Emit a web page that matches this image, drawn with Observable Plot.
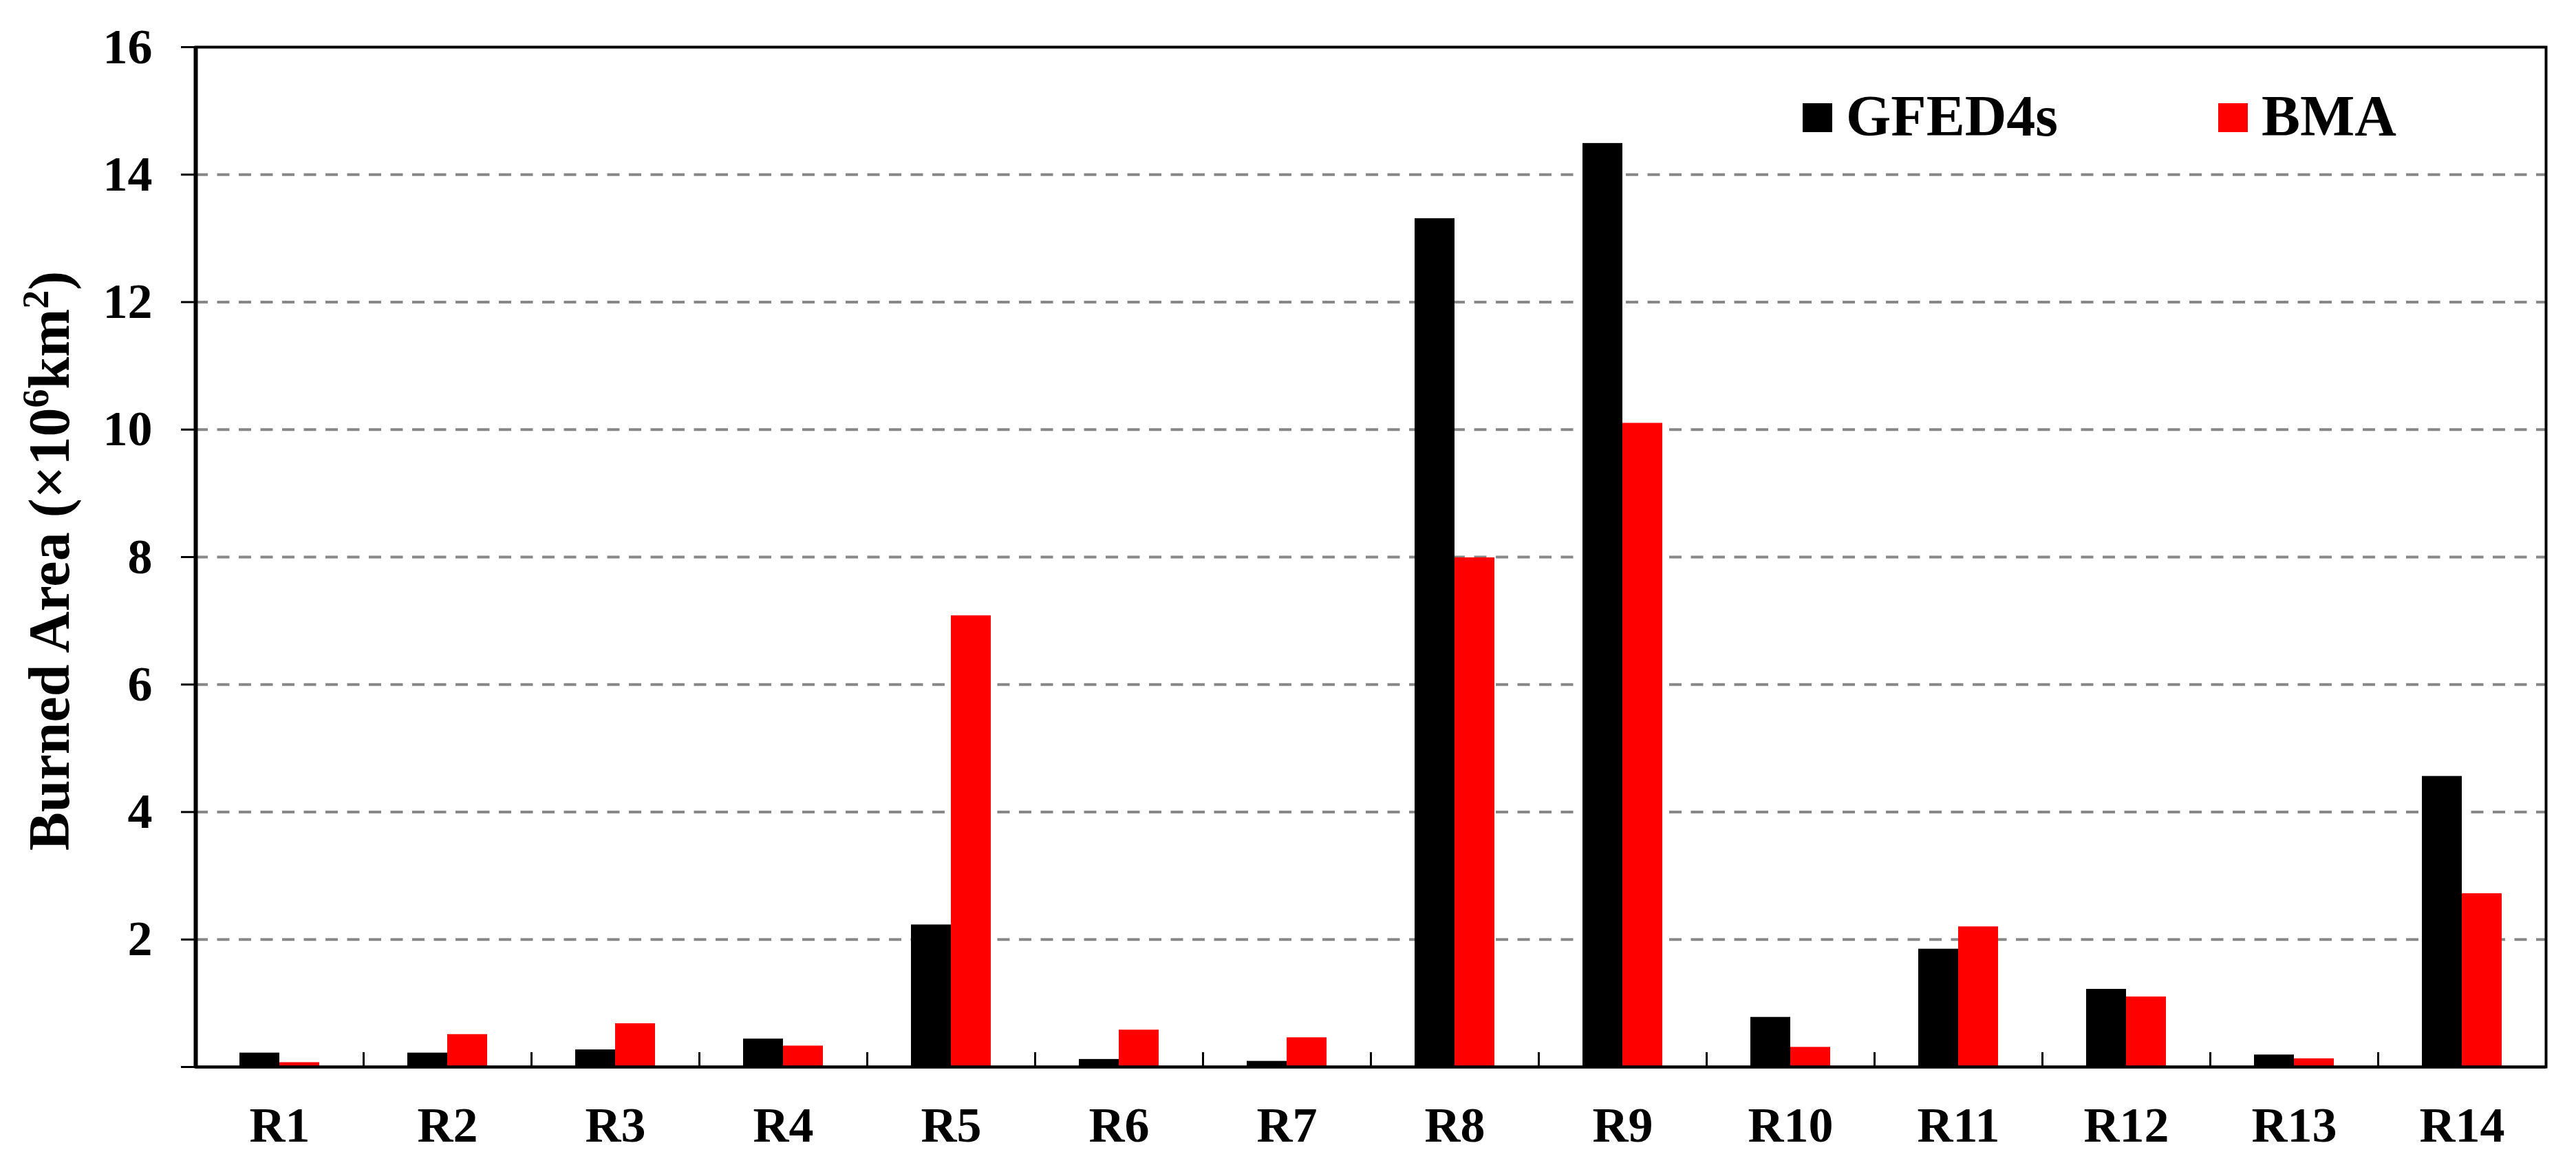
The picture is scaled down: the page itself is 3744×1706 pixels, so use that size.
<!DOCTYPE html>
<html><head><meta charset="utf-8">
<script src="https://cdn.jsdelivr.net/npm/d3@7"></script>
<script src="https://cdn.jsdelivr.net/npm/@observablehq/plot@0.6"></script>
<style>body{margin:0;background:#fff} #chart svg{display:block}</style>
</head><body><div id="chart"></div>
<script>
const regions = ["R1","R2","R3","R4","R5","R6","R7","R8","R9","R10","R11","R12","R13","R14"];
const gfed4s = [0.22,0.22,0.27,0.44,2.23,0.12,0.09,13.31,14.49,0.78,1.85,1.22,0.19,4.56];
const bma    = [0.07,0.51,0.68,0.33,7.08,0.58,0.46,7.99,10.10,0.31,2.20,1.10,0.13,2.72];
const series = ["GFED4s","BMA"];
const seriesColors = ["#000000","#ff0000"];
const yTicks = [0,2,4,6,8,10,12,14,16];
const yGrid = [2,4,6,8,10,12,14];

const W = 3744, H = 1706, mL = 284, mR = 44, mT = 68, mB = 156;
const half = (W - mL - mR) / regions.length / 2;
const barW = 58;
const sepLen = 21 * 16 / (H - mT - mB); // 21px inward separator ticks, in y units
const font = '"Liberation Serif","Times New Roman",Times,serif';

const rowsG = regions.map((r, i) => ({region: r, series: series[0], value: gfed4s[i]}));
const rowsB = regions.map((r, i) => ({region: r, series: series[1], value: bma[i]}));

const svgNode = Plot.plot({
  width: W, height: H,
  marginLeft: mL, marginRight: mR, marginTop: mT, marginBottom: mB,
  style: {fontFamily: font, fontWeight: "bold", fontSize: "72px", background: "#fff", color: "#000"},
  x: {domain: regions, padding: 0, label: null},
  y: {domain: [0, 16], label: null},
  color: {domain: series, range: seriesColors},
  marks: [
    Plot.ruleY(yGrid, {stroke: "#888", strokeWidth: 4, strokeDasharray: "18,13.5"}),
    Plot.barY(rowsG, {x: "region", y: "value", fill: "series", insetLeft: half - barW, insetRight: half}),
    Plot.barY(rowsB, {x: "region", y: "value", fill: "series", insetLeft: half, insetRight: half - barW}),
    Plot.frame({stroke: "#000", strokeWidth: 4}),
    Plot.ruleX([regions[0]], {dx: -half, stroke: "#000", strokeWidth: 6}),
    Plot.ruleY([0], {stroke: "#000", strokeWidth: 4}),
    Plot.ruleX(regions.slice(1), {dx: -half, y1: 0, y2: sepLen, stroke: "#000", strokeWidth: 3}),
    Plot.axisX({tickSize: 0, tickPadding: 57, fontSize: 72, fontWeight: "bold", label: null}),
    Plot.axisY({ticks: yTicks, tickSize: 21, tickPadding: 42, strokeWidth: 3, fontSize: 72, fontWeight: "bold",
      tickFormat: d => d === 0 ? "" : String(d), label: null})
  ]
});
document.getElementById("chart").appendChild(svgNode);
const svg = d3.select(svgNode);

// y-axis title with superscripts
const t = svg.append("text")
  .attr("transform", `translate(100,${(mT + H - mB) / 2 + 6}) rotate(-90)`)
  .attr("text-anchor", "middle")
  .attr("font-family", font).attr("font-weight", "bold").attr("font-size", 84).attr("fill", "#000");
t.append("tspan").text("Burned Area (×10");
t.append("tspan").attr("font-size", 54).attr("dy", -30).text("6");
t.append("tspan").attr("dy", 30).text("km");
t.append("tspan").attr("font-size", 54).attr("dy", -30).text("2");
t.append("tspan").attr("dy", 30).text(")");

// legend
const legendX = [2620, 3224];
series.forEach((s, i) => {
  svg.append("rect").attr("x", legendX[i]).attr("y", 150).attr("width", 43).attr("height", 42).attr("fill", seriesColors[i]);
  svg.append("text").attr("x", legendX[i] + 63).attr("y", 197).attr("text-anchor", "start")
    .attr("font-family", font).attr("font-weight", "bold").attr("font-size", 84).attr("fill", "#000").text(s);
});
</script>
</body></html>
